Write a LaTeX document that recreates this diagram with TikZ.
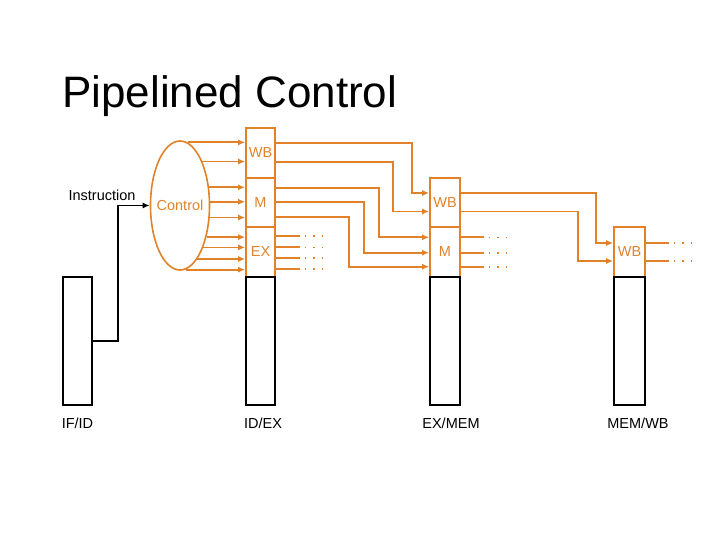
\documentclass[tikz,border=0pt]{standalone}
\usepackage{fontspec}
\setmainfont{Liberation Sans}
\usetikzlibrary{shapes.geometric,arrows.meta}
\definecolor{ctlorange}{RGB}{225,130,40}

\begin{document}
\begin{tikzpicture}[x=1pt,y=-1pt,>={Latex[length=7pt,width=6pt]},
    lbl/.style={font=\fontsize{14.5}{16}\selectfont},
    ctl/.style={draw=ctlorange,line width=1.8pt},
    stagebox/.style={draw=ctlorange,line width=1.6pt,text=ctlorange,lbl,
      minimum width=29pt,minimum height=49.5pt,inner sep=0pt},
    pipereg/.style={draw,line width=2.4pt,minimum width=29pt,
      minimum height=128pt,inner sep=0pt},
    dotline/.style={draw=ctlorange,line width=1.6pt,dash pattern=on 1.5pt off 7pt}]
    \useasboundingbox (0,0) rectangle (720,540);
    \node[anchor=base west,inner sep=0pt,font=\fontsize{44}{50}\selectfont] (title) at (62,108) {Pipelined Control};

    % control fields of the registers
    \node[stagebox] (idexwb) at (260.5,153) {WB};
    \node[stagebox] (idexm) at (260.5,202.5) {M};
    \node[stagebox] (idexex) at (260.5,252) {EX};
    \node[stagebox,minimum width=30pt] (exmemwb) at (445,202.5) {WB};
    \node[stagebox,minimum width=30pt] (exmemm) at (445,252) {M};
    \node[stagebox,minimum width=31pt] (memwbwb) at (629.5,252) {WB};

    % pipeline registers
    \node[pipereg] (ifid) at (77.5,341) {};
    \node[pipereg] (idex) at (260.5,341) {};
    \node[pipereg,minimum width=30pt] (exmem) at (445,341) {};
    \node[pipereg,minimum width=31pt] (memwb) at (629.5,341) {};
    \node[lbl] (ifidlbl) at (77.5,423) {IF/ID};
    \node[lbl] (idexlbl) at (263,423) {ID/EX};
    \node[lbl] (exmemlbl) at (451,423) {EX/MEM};
    \node[lbl] (memwblbl) at (638,423) {MEM/WB};

    % control unit
    \node[ellipse,draw=ctlorange,line width=1.6pt,minimum width=59pt,
      minimum height=129pt,inner sep=0pt,
      label={[lbl,text=ctlorange]center:Control}] (ctrl) at (180,205.5) {};
    \node[lbl] (instr) at (102,195) {Instruction};
    \draw[line width=1.4pt,->] (ifid.east) -| (118,205.5) -- (ctrl.west);

    \foreach \a/\b in {83/idexwb,63/idexwb,32/idexm,7/idexm,-22/idexm,
      -50/idexex,-61/idexex,-72/idexex,-85/idexex}
      \draw[ctl,->] (ctrl.\a) -- (ctrl.\a -| \b.west);

    % ID/EX to EX/MEM
    \foreach \ya/\xc/\yb in {143.3/412/193,162/393/211.5}
      \draw[ctl,->] (idexwb.east |- 0,\ya) -| (\xc,\yb) -- (exmemwb.west |- 0,\yb);
    \foreach \ya/\xc/\yb in {187.7/378.7/237.3,201.7/364/252.7,217.3/348.7/266.7}
      \draw[ctl,->] (idexm.east |- 0,\ya) -| (\xc,\yb) -- (exmemm.west |- 0,\yb);
    \foreach \y in {236,247.3,257.7,268.7} {
      \draw[ctl] (idexex.east |- 0,\y) -- ++(24,0);
      \draw[dotline] (idexex.east |- 0,\y) ++(29,0) -- ++(20,0);
    }

    % EX/MEM to MEM/WB
    \foreach \ya/\xc/\yb in {193/596/243,211.5/577.7/261}
      \draw[ctl,->] (exmemwb.east |- 0,\ya) -| (\xc,\yb) -- (memwbwb.west |- 0,\yb);
    \foreach \y in {237.3,252.7,266.7} {
      \draw[ctl] (exmemm.east |- 0,\y) -- ++(23,0);
      \draw[dotline] (exmemm.east |- 0,\y) ++(28,0) -- ++(20,0);
    }
    \foreach \y in {243,261} {
      \draw[ctl] (memwbwb.east |- 0,\y) -- ++(23,0);
      \draw[dotline] (memwbwb.east |- 0,\y) ++(28,0) -- ++(20,0);
    }
\end{tikzpicture}
\end{document}
